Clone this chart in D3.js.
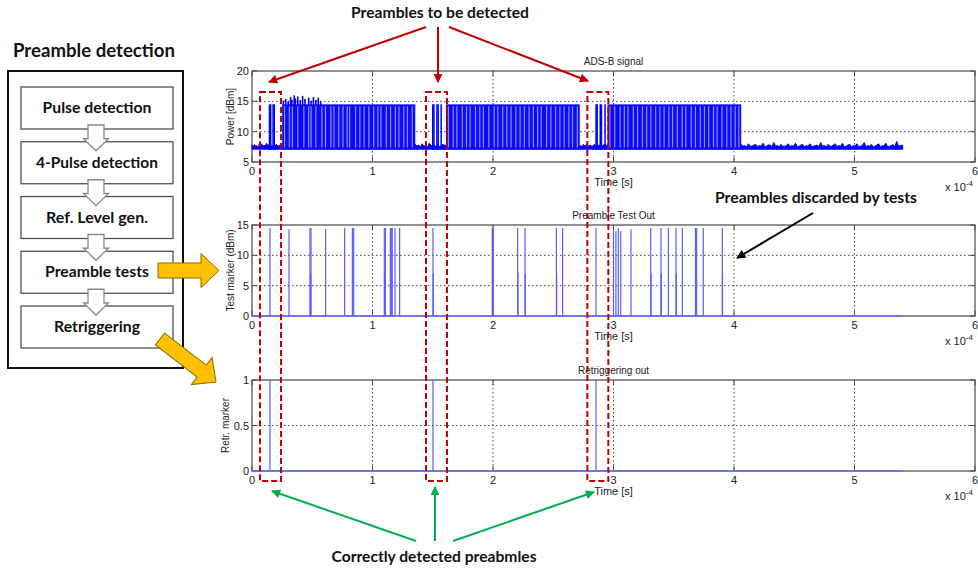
<!DOCTYPE html>
<html>
<head>
<meta charset="utf-8">
<script src="https://cdn.jsdelivr.net/npm/d3@7"></script>
<style>
  body { margin: 0; background: #fff; }
  svg { display: block; }
  .axis-text { font-family: "Liberation Sans", Arial, sans-serif; fill: #222; }
  .note { font-family: Lato, "Open Sans", sans-serif; font-weight: bold; fill: #111; }
</style>
</head>
<body>
<div class="chart"></div>
<script>
var svgWidth = 978;
var svgHeight = 572;

// ---- data (time in units of 1e-4 s) ----
var xTicks = [0, 1, 2, 3, 4, 5, 6];
var powerTicks = [5, 10, 15, 20];
var markerTicks = [0, 5, 10, 15];
var retrTicks = [0, 0.5, 1];
var panelTitles = ["ADS-B signal", "Preamble Test Out", "Retriggering out"];
var yLabels = ["Power [dBm]", "Test marker (dBm)", "Retr. marker"];
var flowSteps = ["Pulse detection", "4-Pulse detection", "Ref. Level gen.", "Preamble tests", "Retriggering"];
var signalEnd = 5.4;

// noise floor of the ADS-B signal [t, dBm]
var noiseStart = [[0, 7.8], [0.01, 7.5], [0.02, 7.9], [0.03, 7.6], [0.04, 7.7], [0.05, 7.4], [0.06, 7.9], [0.07, 7.6],
  [0.08, 8.0], [0.09, 7.5], [0.10, 7.8], [0.11, 7.6], [0.12, 8.1], [0.13, 7.7], [0.145, 7.9], [0.16, 7.6], [0.17, 7.8],
  [0.19, 7.5], [0.20, 7.9], [0.22, 7.6], [0.23, 7.8], [0.25, 7.7]];
var noiseGap1 = [[1.355, 7.9], [1.37, 7.6], [1.38, 7.8], [1.40, 7.5], [1.41, 8.0], [1.43, 7.6], [1.44, 7.8], [1.46, 7.5],
  [1.47, 8.1], [1.49, 7.7], [1.50, 7.9], [1.52, 7.6], [1.54, 7.8], [1.56, 7.5], [1.58, 7.9], [1.61, 7.7]];
var noiseGap2 = [[2.72, 7.8], [2.73, 7.5], [2.75, 7.9], [2.76, 7.6], [2.78, 8.0], [2.79, 7.6], [2.81, 7.8], [2.82, 7.5],
  [2.84, 7.9], [2.86, 7.6], [2.88, 7.8], [2.90, 7.5], [2.92, 7.9], [2.95, 7.7]];
var noiseTail = [[4.06, 7.9], [4.075, 7.6], [4.09, 7.7], [4.105, 7.5], [4.12, 8.0], [4.135, 7.6], [4.15, 7.6], [4.165, 7.8],
  [4.18, 7.9], [4.195, 7.5], [4.21, 7.7], [4.225, 7.6], [4.24, 8.1], [4.255, 7.5], [4.27, 7.6], [4.285, 7.8],
  [4.30, 7.8], [4.315, 7.5], [4.33, 8.2], [4.345, 7.6], [4.36, 7.7], [4.375, 7.5], [4.39, 7.9], [4.405, 7.6],
  [4.42, 7.6], [4.435, 7.7], [4.45, 8.0], [4.465, 7.5], [4.48, 7.7], [4.495, 7.6], [4.51, 8.1], [4.525, 7.5],
  [4.54, 7.6], [4.555, 7.8], [4.57, 7.9], [4.585, 7.5], [4.60, 7.7], [4.615, 7.6], [4.63, 8.0], [4.645, 7.5],
  [4.66, 7.6], [4.675, 7.7], [4.69, 7.8], [4.705, 7.5], [4.72, 8.2], [4.735, 7.6], [4.75, 7.7], [4.765, 7.5],
  [4.78, 7.9], [4.795, 7.6], [4.81, 7.6], [4.825, 7.8], [4.84, 8.0], [4.855, 7.5], [4.87, 7.7], [4.885, 7.6],
  [4.90, 8.1], [4.915, 7.5], [4.93, 7.6], [4.945, 7.8], [4.96, 7.9], [4.975, 7.5], [4.99, 7.7], [5.005, 7.6],
  [5.02, 8.0], [5.035, 7.5], [5.05, 7.6], [5.065, 7.7], [5.08, 8.2], [5.095, 7.5], [5.11, 7.7], [5.125, 7.6],
  [5.14, 7.9], [5.155, 7.5], [5.17, 7.6], [5.185, 7.8], [5.20, 8.0], [5.215, 7.5], [5.23, 7.7], [5.245, 7.6],
  [5.26, 8.1], [5.275, 7.5], [5.29, 7.6], [5.305, 7.7], [5.32, 7.9], [5.335, 7.5], [5.35, 8.4], [5.365, 7.6],
  [5.38, 7.7], [5.40, 7.8]];

// dense message bursts [start, end, low, high]
var bursts = [[0.25, 1.355, 7.0, 14.5], [1.61, 2.72, 7.0, 14.5], [2.95, 4.06, 7.0, 14.5]];
// light gaps between pulses inside the bursts
var burstGaps = [0.27, 0.31, 0.335, 0.38, 0.43, 0.47, 0.49, 0.53, 0.58, 0.61, 0.655, 0.68, 0.72, 0.755, 0.79, 0.81,
  0.86, 0.895, 0.93, 0.97, 1.01, 1.045, 1.07, 1.115, 1.15, 1.19, 1.22, 1.26, 1.29, 1.33,
  1.63, 1.67, 1.70, 1.745, 1.78, 1.81, 1.855, 1.89, 1.92, 1.965, 2.01, 2.04, 2.08, 2.115, 2.15, 2.19, 2.225, 2.26,
  2.30, 2.335, 2.37, 2.40, 2.445, 2.48, 2.52, 2.555, 2.59, 2.63, 2.66, 2.70,
  2.97, 3.01, 3.055, 3.09, 3.12, 3.165, 3.20, 3.24, 3.275, 3.31, 3.35, 3.385, 3.42, 3.46, 3.49, 3.53, 3.57, 3.60,
  3.645, 3.68, 3.72, 3.755, 3.79, 3.83, 3.86, 3.90, 3.94, 3.975, 4.01, 4.04];
// isolated preamble pulses before each burst
var preamblePulses = [0.145, 0.155, 0.175, 0.185, 1.50, 1.51, 1.535, 1.545, 1.57, 2.855, 2.865, 2.89, 2.90, 2.93];
// overshoot peaks at the start of burst 1 [t, dBm]
var overshoot = [[0.26, 15.1], [0.28, 15.4], [0.30, 15.0], [0.32, 15.7], [0.33, 15.3], [0.35, 16.0], [0.36, 15.5],
  [0.38, 15.8], [0.40, 15.2], [0.42, 15.9], [0.44, 15.4], [0.47, 15.6], [0.49, 15.1], [0.51, 15.7], [0.53, 15.2],
  [0.55, 15.6], [0.57, 15.0]];

// preamble test output [t, marker]
var testMarkers = [[0.149, 14.5], [0.307, 14.3], [0.481, 14.5], [0.490, 14.5], [0.486, 7], [0.611, 14.3], [0.769, 14.5],
  [0.833, 14.5], [0.844, 14.5], [1.098, 14.5], [1.100, 7], [1.107, 14.5], [1.148, 14.5], [1.156, 14.5], [1.164, 14.5],
  [1.187, 14.5], [1.225, 14.5], [1.502, 14.5], [1.504, 7], [1.994, 14.5], [1.998, 14.5], [2.003, 14.5], [2.205, 14.5],
  [2.207, 7], [2.266, 14.5], [2.268, 7], [2.526, 14.5], [2.528, 7], [2.578, 14.5], [2.855, 14.5], [3.00, 14.3],
  [3.02, 14.0], [3.04, 14.5], [3.06, 14.0], [3.145, 14.3], [3.309, 14.5], [3.311, 7], [3.394, 14.5], [3.396, 7],
  [3.455, 14.5], [3.519, 14.5], [3.521, 7], [3.571, 14.5], [3.68, 14.5], [3.69, 14.5], [3.745, 14.5], [3.903, 14.5],
  [3.905, 7]];
// retriggering output [t, marker]
var retrMarkers = [[0.149, 1], [1.502, 1], [2.855, 1]];
// preamble windows highlighted in red [t0, t1]
var preambleWindows = [[0.066, 0.241], [1.444, 1.618], [2.783, 2.957]];

// ---- layout ----
var svg = d3.select(".chart")
  .append("svg")
  .attr("width", svgWidth)
  .attr("height", svgHeight);

var xScale = d3.scaleLinear().domain([0, 6]).range([252, 975]);

var panels = [
  { top: 71, bottom: 162, ticks: powerTicks, labelX: 230 },
  { top: 225, bottom: 316, ticks: markerTicks, labelX: 230 },
  { top: 380, bottom: 471, ticks: retrTicks, labelX: 225 }
];

var defs = svg.append("defs");
function addMarker(id, color) {
  defs.append("marker")
    .attr("id", id)
    .attr("viewBox", "0 0 10 10")
    .attr("refX", 9).attr("refY", 5)
    .attr("markerUnits", "userSpaceOnUse")
    .attr("markerWidth", 11).attr("markerHeight", 9)
    .attr("orient", "auto")
    .append("path").attr("d", "M0,0 L10,5 L0,10 z").attr("fill", color);
}
addMarker("headRed", "#c00000");
addMarker("headGreen", "#00b050");
addMarker("headBlack", "#000");

// draw axes frame, grid and labels; returns y scale
function drawPanel(i) {
  var p = panels[i];
  var ticks = p.ticks;
  var y = d3.scaleLinear().domain(d3.extent(ticks)).range([p.bottom, p.top]);
  var g = svg.append("g");
  var x0 = xScale(0), x1 = xScale(6);

  // dotted grid
  g.selectAll(".vgrid").data(xTicks.slice(1, -1)).enter().append("line")
    .attr("x1", d => xScale(d)).attr("x2", d => xScale(d))
    .attr("y1", p.top).attr("y2", p.bottom)
    .attr("stroke", "#444").attr("stroke-dasharray", "1.5,2.5");
  g.selectAll(".hgrid").data(ticks.slice(1, -1)).enter().append("line")
    .attr("x1", x0).attr("x2", x1)
    .attr("y1", d => y(d)).attr("y2", d => y(d))
    .attr("stroke", "#444").attr("stroke-dasharray", "1.5,2.5");

  // inward tick marks
  xTicks.forEach(function(t) {
    g.append("line").attr("x1", xScale(t)).attr("x2", xScale(t)).attr("y1", p.bottom).attr("y2", p.bottom - 5).attr("stroke", "#444");
    g.append("line").attr("x1", xScale(t)).attr("x2", xScale(t)).attr("y1", p.top).attr("y2", p.top + 5).attr("stroke", "#444");
  });
  ticks.forEach(function(t) {
    g.append("line").attr("x1", x0).attr("x2", x0 + 5).attr("y1", y(t)).attr("y2", y(t)).attr("stroke", "#444");
    g.append("line").attr("x1", x1).attr("x2", x1 - 5).attr("y1", y(t)).attr("y2", y(t)).attr("stroke", "#444");
  });

  g.append("rect")
    .attr("x", x0).attr("y", p.top)
    .attr("width", x1 - x0).attr("height", p.bottom - p.top)
    .attr("fill", "none").attr("stroke", "#555").attr("stroke-width", 1.3);

  // tick labels
  g.selectAll(".xl").data(xTicks).enter().append("text")
    .attr("class", "axis-text")
    .attr("x", d => xScale(d)).attr("y", p.bottom + 12.5)
    .attr("text-anchor", "middle").attr("font-size", 11)
    .text(d => d);
  g.selectAll(".yl").data(ticks).enter().append("text")
    .attr("class", "axis-text")
    .attr("x", 249).attr("y", d => y(d) + 4)
    .attr("text-anchor", "end").attr("font-size", 11)
    .text(d => d);

  g.append("text").attr("class", "axis-text")
    .attr("x", xScale(3)).attr("y", p.top - 6)
    .attr("text-anchor", "middle").attr("font-size", 10)
    .text(panelTitles[i]);
  g.append("text").attr("class", "axis-text")
    .attr("x", xScale(3)).attr("y", p.bottom + 24)
    .attr("text-anchor", "middle").attr("font-size", 11)
    .text("Time [s]");
  var ex = g.append("text").attr("class", "axis-text")
    .attr("x", 945).attr("y", p.bottom + 29).attr("font-size", 11);
  ex.append("tspan").text("x 10");
  ex.append("tspan").attr("dy", -5).attr("font-size", 8).text("-4");

  g.append("text").attr("class", "axis-text")
    .attr("transform", `translate(${p.labelX}, ${(p.top + p.bottom) / 2}) rotate(-90)`)
    .attr("text-anchor", "middle").attr("dominant-baseline", "central")
    .attr("font-size", 10)
    .text(yLabels[i]);

  return y;
}

// ---- panel 1: ADS-B signal ----
var yPow = drawPanel(0);
var sig = svg.append("g");
var noiseArea = d3.area()
  .x(d => xScale(d[0]))
  .y0(yPow(7.1))
  .y1(d => yPow(d[1]));
[noiseStart, noiseGap1, noiseGap2, noiseTail].forEach(function(seg) {
  sig.append("path").datum(seg)
    .attr("d", noiseArea)
    .attr("fill", "#0000ff").attr("stroke", "#0000ff").attr("stroke-width", 1);
});
sig.selectAll(".burst").data(bursts).enter().append("rect")
  .attr("x", d => xScale(d[0])).attr("width", d => xScale(d[1]) - xScale(d[0]))
  .attr("y", d => yPow(d[3])).attr("height", d => yPow(d[2]) - yPow(d[3]))
  .attr("fill", "#0a0aff");
sig.selectAll(".gap").data(burstGaps).enter().append("line")
  .attr("x1", d => xScale(d)).attr("x2", d => xScale(d))
  .attr("y1", yPow(14.2)).attr("y2", yPow(7.4))
  .attr("stroke", "#8e8eff").attr("stroke-width", 1.2);
sig.selectAll(".pulse").data(preamblePulses).enter().append("line")
  .attr("x1", d => xScale(d)).attr("x2", d => xScale(d))
  .attr("y1", yPow(7.0)).attr("y2", yPow(14.5))
  .attr("stroke", "#0000ff").attr("stroke-width", 1.5);
sig.selectAll(".over").data(overshoot).enter().append("line")
  .attr("x1", d => xScale(d[0])).attr("x2", d => xScale(d[0]))
  .attr("y1", yPow(14.4)).attr("y2", d => yPow(d[1]))
  .attr("stroke", "#0000ff").attr("stroke-width", 1.6);

// ---- panel 2: preamble test out ----
var yTest = drawPanel(1);
var tg = svg.append("g");
tg.append("line")
  .attr("x1", xScale(0)).attr("x2", xScale(signalEnd))
  .attr("y1", yTest(0)).attr("y2", yTest(0))
  .attr("stroke", "#6b6bff").attr("stroke-width", 1.5);
tg.selectAll(".tm").data(testMarkers).enter().append("line")
  .attr("x1", d => xScale(d[0])).attr("x2", d => xScale(d[0]))
  .attr("y1", yTest(0)).attr("y2", d => yTest(d[1]))
  .attr("stroke", "#5c5cff").attr("stroke-width", 1.2);

// ---- panel 3: retriggering out ----
var yRetr = drawPanel(2);
var rg = svg.append("g");
rg.append("line")
  .attr("x1", xScale(0)).attr("x2", xScale(signalEnd))
  .attr("y1", yRetr(0)).attr("y2", yRetr(0))
  .attr("stroke", "#6b6bff").attr("stroke-width", 1.5);
rg.selectAll(".rm").data(retrMarkers).enter().append("line")
  .attr("x1", d => xScale(d[0])).attr("x2", d => xScale(d[0]))
  .attr("y1", yRetr(0)).attr("y2", d => yRetr(d[1]))
  .attr("stroke", "#5c5cff").attr("stroke-width", 1.2);

// ---- red dashed preamble windows ----
svg.selectAll(".win").data(preambleWindows).enter().append("rect")
  .attr("x", d => xScale(d[0])).attr("width", d => xScale(d[1]) - xScale(d[0]))
  .attr("y", 92).attr("height", 389)
  .attr("fill", "none").attr("stroke", "#c00000")
  .attr("stroke-width", 2).attr("stroke-dasharray", "6,3");

// ---- annotations ----
function arrow(x1, y1, x2, y2, color, marker) {
  svg.append("line")
    .attr("x1", x1).attr("y1", y1).attr("x2", x2).attr("y2", y2)
    .attr("stroke", color).attr("stroke-width", 2)
    .attr("marker-end", `url(#${marker})`);
}
svg.append("text").attr("class", "note")
  .attr("x", 440).attr("y", 17.5).attr("text-anchor", "middle")
  .attr("font-size", 15).attr("textLength", 178).attr("lengthAdjust", "spacingAndGlyphs")
  .text("Preambles to be detected");
arrow(426, 27, 269, 82, "#c00000", "headRed");
arrow(438, 27, 438, 82, "#c00000", "headRed");
arrow(449, 27, 588, 81, "#c00000", "headRed");

svg.append("text").attr("class", "note")
  .attr("x", 816).attr("y", 203).attr("text-anchor", "middle")
  .attr("font-size", 15).attr("textLength", 202).attr("lengthAdjust", "spacingAndGlyphs")
  .text("Preambles discarded by tests");
arrow(813, 213, 737, 258, "#000", "headBlack");

svg.append("text").attr("class", "note")
  .attr("x", 434).attr("y", 562).attr("text-anchor", "middle")
  .attr("font-size", 15).attr("textLength", 205).attr("lengthAdjust", "spacingAndGlyphs")
  .text("Correctly detected preabmles");
arrow(416, 541, 272, 491, "#00b050", "headGreen");
arrow(435, 541, 435, 487, "#00b050", "headGreen");
arrow(453, 541, 594, 492, "#00b050", "headGreen");

// ---- flowchart ----
var fc = svg.append("g");
fc.append("text").attr("class", "note")
  .attr("x", 13).attr("y", 57).attr("font-size", 18)
  .attr("textLength", 162).attr("lengthAdjust", "spacingAndGlyphs")
  .text("Preamble detection");
fc.append("rect")
  .attr("x", 8).attr("y", 71).attr("width", 175).attr("height", 297)
  .attr("fill", "#fff").attr("stroke", "#111").attr("stroke-width", 2);

var boxTop = d3.scaleLinear().domain([0, 4]).range([87, 306]);
var boxH = 42;
var stepWidths = [109, 122, 102, 104, 86];
fc.selectAll(".step").data(flowSteps).enter().append("rect")
  .attr("x", 21).attr("y", (d, i) => boxTop(i))
  .attr("width", 152).attr("height", boxH)
  .attr("fill", "#fff").attr("stroke", "#444").attr("stroke-width", 1.2);
fc.selectAll(".stept").data(flowSteps).enter().append("text")
  .attr("class", "note")
  .attr("x", 97).attr("y", (d, i) => boxTop(i) + boxH / 2 + 5)
  .attr("text-anchor", "middle").attr("font-size", 15)
  .attr("textLength", (d, i) => stepWidths[i]).attr("lengthAdjust", "spacingAndGlyphs")
  .text(d => d);

// hollow arrows between the steps
d3.range(flowSteps.length - 1).forEach(function(i) {
  var yStart = boxTop(i) + boxH - 4;
  var yNeck = boxTop(i + 1) - 3;
  var yTip = boxTop(i + 1) + 9;
  var cx = 96;
  var pts = [[cx - 8, yStart], [cx + 8, yStart], [cx + 8, yNeck], [cx + 12.5, yNeck], [cx, yTip],
    [cx - 12.5, yNeck], [cx - 8, yNeck]];
  fc.append("polygon")
    .attr("points", pts.map(p => p.join(",")).join(" "))
    .attr("fill", "#fff").attr("stroke", "#8a8a8a").attr("stroke-width", 1.3);
});

// gold block arrows
function blockArrow(tx, ty, hx, hy) {
  var len = Math.hypot(hx - tx, hy - ty);
  var ang = Math.atan2(hy - ty, hx - tx) * 180 / Math.PI;
  var head = 18, sw = 7.5, hw = 17;
  var pts = [[0, -sw], [len - head, -sw], [len - head, -hw], [len, 0], [len - head, hw], [len - head, sw], [0, sw]];
  svg.append("polygon")
    .attr("points", pts.map(p => p.join(",")).join(" "))
    .attr("transform", `translate(${tx},${ty}) rotate(${ang})`)
    .attr("fill", "#ffc000").attr("stroke", "#8c6d00").attr("stroke-width", 1);
}
blockArrow(158, 270.5, 219, 270.5);
blockArrow(160, 339, 216, 382);
</script>
</body>
</html>
